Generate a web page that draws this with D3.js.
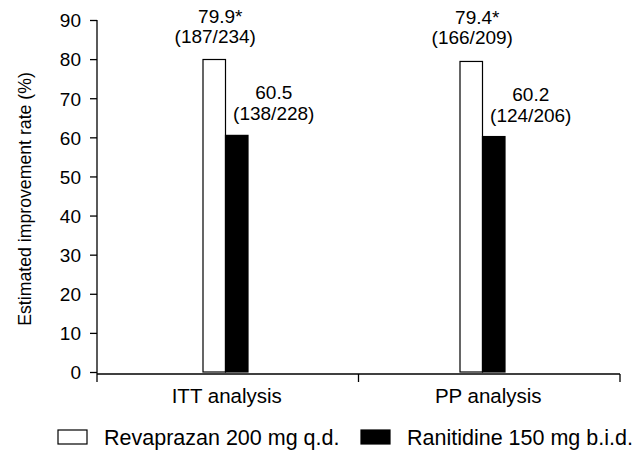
<!DOCTYPE html>
<html>
<head>
<meta charset="utf-8">
<script src="https://cdn.jsdelivr.net/npm/d3@7"></script>
<style>
  body { margin: 0; background: #fff; }
  text { font-family: "Liberation Sans", Arial, sans-serif; fill: #000; }
</style>
</head>
<body>
<script>
// data
var categories = ["ITT analysis", "PP analysis"];
var seriesNames = ["Revaprazan 200 mg q.d.", "Ranitidine 150 mg b.i.d."];
var revaprazan = [79.9, 79.4];
var ranitidine = [60.5, 60.2];
var revaLabels = [["79.9*", "(187/234)"], ["79.4*", "(166/209)"]];
var raniLabels = [["60.5", "(138/228)"], ["60.2", "(124/206)"]];
var yTicks = [0, 10, 20, 30, 40, 50, 60, 70, 80, 90];

var width = 644;
var height = 452;
var plotleft = 97, plotright = 620, plottop = 20, plotbottom = 372;
var barwidth = 22.5;

var svg = d3.select("body")
  .append("svg")
  .attr("width", width)
  .attr("height", height);

var x = d3.scaleBand()
  .domain(categories)
  .range([plotleft, plotright]);

// bars sit a little left of the band centres
var xbars = d3.scaleBand()
  .domain(categories)
  .range([plotleft, plotright - 9]);

var y = d3.scaleLinear()
  .domain([0, 90])
  .range([plotbottom, plottop]);

// y axis
var yAxis = svg.append("g")
  .attr("transform", `translate(${plotleft},0)`)
  .call(d3.axisLeft(y).tickValues(yTicks).tickSize(7).tickPadding(9));
yAxis.selectAll("text").style("font-size", "19px").attr("dy", "0.36em");
yAxis.selectAll("path, line").attr("stroke", "#000").attr("stroke-width", 1.3);
yAxis.select(".domain").attr("d", `M0,${plottop}V${plotbottom + 2}`);

// x axis with ticks at band edges
var xAxis = svg.append("g")
  .attr("transform", `translate(0,${plotbottom + 2})`);
xAxis.append("line")
  .attr("x1", plotleft).attr("x2", plotright)
  .attr("stroke", "#000").attr("stroke-width", 1.3);
var edges = [plotleft, x(categories[1]), plotright];
xAxis.selectAll(".edge")
  .data(edges)
  .enter().append("line")
  .attr("x1", d => d).attr("x2", d => d)
  .attr("y1", 0).attr("y2", 8)
  .attr("stroke", "#000").attr("stroke-width", 1.3);
xAxis.selectAll(".cat")
  .data(categories)
  .enter().append("text")
  .attr("x", d => x(d) + x.bandwidth() / 2 - 1)
  .attr("y", 29)
  .attr("text-anchor", "middle")
  .style("font-size", "20.5px")
  .text(d => d);

// y title
svg.append("text")
  .attr("transform", `translate(31,${(plottop + plotbottom) / 2 + 3}) rotate(-90)`)
  .attr("text-anchor", "middle")
  .style("font-size", "17.7px")
  .text("Estimated improvement rate (%)");

// bars
var groupcenter = d => xbars(d) + xbars.bandwidth() / 2;

var bars = svg.append("g");
bars.selectAll(".reva")
  .data(categories)
  .enter().append("rect")
  .attr("x", d => groupcenter(d) - barwidth)
  .attr("y", (d, i) => y(revaprazan[i]))
  .attr("width", barwidth)
  .attr("height", (d, i) => y(0) - y(revaprazan[i]))
  .attr("fill", "#fff")
  .attr("stroke", "#000")
  .attr("stroke-width", 1.2);
bars.selectAll(".rani")
  .data(categories)
  .enter().append("rect")
  .attr("x", d => groupcenter(d))
  .attr("y", (d, i) => y(ranitidine[i]))
  .attr("width", barwidth)
  .attr("height", (d, i) => y(0) - y(ranitidine[i]))
  .attr("fill", "#000")
  .attr("stroke", "#000")
  .attr("stroke-width", 1.2);

// value labels
categories.forEach(function (c, i) {
  var cx = groupcenter(c) - barwidth / 2 + 1;
  var top1 = y(revaprazan[i]);
  svg.append("text")
    .attr("x", cx + 5).attr("y", top1 - 37)
    .attr("text-anchor", "middle").style("font-size", "19px")
    .text(revaLabels[i][0]);
  svg.append("text")
    .attr("x", cx).attr("y", top1 - 17)
    .attr("text-anchor", "middle").style("font-size", "19px")
    .text(revaLabels[i][1]);

  var cx2 = groupcenter(c) + barwidth / 2 + 37;
  var top2 = y(ranitidine[i]);
  svg.append("text")
    .attr("x", cx2).attr("y", top2 - 36)
    .attr("text-anchor", "middle").style("font-size", "19px")
    .text(raniLabels[i][0]);
  svg.append("text")
    .attr("x", cx2).attr("y", top2 - 15)
    .attr("text-anchor", "middle").style("font-size", "19px")
    .text(raniLabels[i][1]);
});

// legend
var legendx = [58, 361];
var legendfill = ["#fff", "#000"];
var legend = svg.append("g").attr("transform", "translate(0,430)");
seriesNames.forEach(function (s, i) {
  legend.append("rect")
    .attr("x", legendx[i]).attr("y", 0)
    .attr("width", 29).attr("height", 14)
    .attr("fill", legendfill[i])
    .attr("stroke", "#000").attr("stroke-width", 1.2);
  legend.append("text")
    .attr("x", legendx[i] + 46).attr("y", 15)
    .style("font-size", "21.5px")
    .text(s);
});
</script>
</body>
</html>
